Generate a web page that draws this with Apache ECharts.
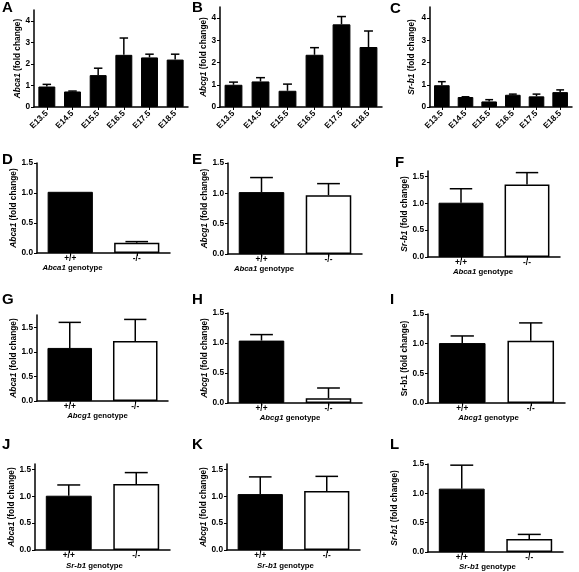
<!DOCTYPE html>
<html><head><meta charset="utf-8">
<script src="https://cdn.jsdelivr.net/npm/echarts@6/dist/echarts.min.js"></script>
<style>html,body{margin:0;padding:0;background:#fff}#c{width:579px;height:572px}</style>
</head><body><div id="c"></div>
<script>
// ---- data ----
const stages = ['E13.5','E14.5','E15.5','E16.5','E17.5','E18.5'];
const genotypes = ['+/+','-/-'];
const abca1Stage = [0.95, 0.72, 1.48, 2.42, 2.30, 2.20];
const abca1StageErr = [1.05, 0.74, 1.80, 3.20, 2.45, 2.45];
const abcg1Stage = [1.00, 1.15, 0.73, 2.35, 3.72, 2.70];
const abcg1StageErr = [1.12, 1.32, 1.03, 2.67, 4.07, 3.42];
const srb1Stage = [0.98, 0.45, 0.25, 0.55, 0.48, 0.67];
const srb1StageErr = [1.14, 0.46, 0.33, 0.58, 0.58, 0.77];
const dVals = [1.02, 0.17], dErr = [1.02, 0.19];
const eVals = [1.02, 0.97], eErr = [1.26, 1.16];
const fVals = [1.01, 1.35], fErr = [1.27, 1.57];
const gVals = [1.08, 1.22], gErr = [1.60, 1.66];
const hVals = [1.04, 0.08], hErr = [1.14, 0.25];
const iVals = [1.01, 1.05], iErr = [1.13, 1.35];
const jVals = [1.01, 1.23], jErr = [1.21, 1.44];
const kVals = [1.04, 1.10], kErr = [1.36, 1.37];
const lVals = [1.08, 0.22], lErr = [1.48, 0.30];
const stageTicks = [0, 1, 2, 3, 4];
const foldTicks = [0, 0.5, 1.0, 1.5];

// ---- panels ----
const FONT = '"Liberation Sans", Arial, sans-serif';
const panels = [
  {L:'A', lx:2, ly:0, g:{left:34, top:10, width:154, height:97}, cats:stages, v:abca1Stage, e:abca1StageErr, max:4.5, ticks:stageTicks, yname:'{i|Abca1} (fold change)', gap:9},
  {L:'B', lx:192, ly:0, g:{left:220, top:7, width:162, height:100}, cats:stages, v:abcg1Stage, e:abcg1StageErr, max:4.5, ticks:stageTicks, yname:'{i|Abcg1} (fold change)', gap:6},
  {L:'C', lx:390, ly:1, g:{left:430, top:7, width:142, height:100}, cats:stages, v:srb1Stage, e:srb1StageErr, max:4.5, ticks:stageTicks, yname:'{i|Sr-b1} (fold change)', gap:14},
  {L:'D', lx:2, ly:152, g:{left:37, top:163, width:133, height:90}, cats:genotypes, v:dVals, e:dErr, max:1.5, ticks:foldTicks, yname:'{i|Abca1} (fold change)', gap:17, xname:'{i|Abca1} genotype', xgap:6, xshift:31},
  {L:'E', lx:192, ly:152, g:{left:228, top:163, width:134, height:91}, cats:genotypes, v:eVals, e:eErr, max:1.5, ticks:foldTicks, yname:'{i|Abcg1} (fold change)', gap:19, xname:'{i|Abca1} genotype', xgap:5, xshift:31},
  {L:'F', lx:395, ly:155, g:{left:428, top:171, width:132, height:86}, cats:genotypes, v:fVals, e:fErr, max:1.6, ticks:foldTicks, yname:'{i|Sr-b1} (fold change)', gap:12, xname:'{i|Abca1} genotype', xgap:10, xshift:11},
  {L:'G', lx:2, ly:292, g:{left:37, top:315, width:131, height:86}, cats:genotypes, v:gVals, e:gErr, max:1.75, ticks:foldTicks, yname:'{i|Abca1} (fold change)', gap:18, xname:'{i|Abcg1} genotype', xgap:10, xshift:5},
  {L:'H', lx:192, ly:292, g:{left:228, top:313, width:134, height:90}, cats:genotypes, v:hVals, e:hErr, max:1.5, ticks:foldTicks, yname:'{i|Abcg1} (fold change)', gap:18, xname:'{i|Abcg1} genotype', xgap:11, xshift:5},
  {L:'I', lx:390, ly:292, g:{left:428, top:314, width:137, height:89}, cats:genotypes, v:iVals, e:iErr, max:1.5, ticks:foldTicks, yname:'Sr-b1 (fold change)', gap:17, xname:'{i|Abcg1} genotype', xgap:10, xshift:8},
  {L:'J', lx:2, ly:437, g:{left:35, top:464, width:135, height:86}, cats:genotypes, v:jVals, e:jErr, max:1.6, ticks:foldTicks, yname:'{i|Abca1} (fold change)', gap:16, xname:'{i|Sr-b1} genotype', xgap:12, xshift:8},
  {L:'K', lx:192, ly:437, g:{left:227, top:464, width:133, height:86}, cats:genotypes, v:kVals, e:kErr, max:1.6, ticks:foldTicks, yname:'{i|Abcg1} (fold change)', gap:18, xname:'{i|Sr-b1} genotype', xgap:12, xshift:8},
  {L:'L', lx:390, ly:437, g:{left:428, top:464, width:135, height:88}, cats:genotypes, v:lVals, e:lErr, max:1.5, ticks:foldTicks, yname:'{i|Sr-b1} (fold change)', gap:29, xname:'{i|Sr-b1} genotype', xgap:11, xshift:8}
];

const grid = [], xAxis = [], yAxis = [], series = [], title = [];
panels.forEach((p, k) => {
  const isStage = p.cats.length > 2;
  const barFrac = isStage ? 0.66 : 0.68;
  grid.push(Object.assign({containLabel:false}, p.g));
  title.push({text:p.L, left:p.lx, top:p.ly, padding:0,
    textStyle:{fontFamily:FONT, fontWeight:'bold', fontSize:15, color:'#000'}});
  const ynFs = 8.3;
  const nameStyle = {fontFamily:FONT, fontWeight:'bold', fontSize:ynFs, color:'#000',
    rich:{i:{fontFamily:FONT, fontWeight:'bold', fontStyle:'italic', fontSize:ynFs, color:'#000'}}};
  const xnFs = 7.8;
  xAxis.push({
    type:'category', gridIndex:k, data:p.cats, boundaryGap:true,
    axisLine:{lineStyle:{color:'#000', width:1.5}},
    axisTick:{show:true, alignWithLabel:true, length:3, lineStyle:{color:'#000', width:1}},
    axisLabel:{fontFamily:FONT, fontWeight:'bold', fontSize:8.3, color:'#000',
      rotate:isStage?45:0, margin:isStage?5:2, interval:0},
    name:p.xname || '', nameLocation:'middle', nameGap:p.xgap || 0,
    nameTextStyle:{fontFamily:FONT, fontWeight:'bold', fontSize:xnFs, color:'#000',
      padding:[0, 2*(p.xshift||0), 0, 0],
      rich:{i:{fontFamily:FONT, fontWeight:'bold', fontStyle:'italic', fontSize:xnFs, color:'#000'}}}
  });
  yAxis.push({
    type:'value', gridIndex:k, min:0, max:p.max, interval:isStage?1:0.5,
    splitLine:{show:false},
    axisLine:{show:true, lineStyle:{color:'#000', width:1.5}},
    axisTick:{show:true, length:3, lineStyle:{color:'#000', width:1}, customValues:p.ticks},
    axisLabel:{fontFamily:FONT, fontWeight:'bold', fontSize:8.3, color:'#000', margin:4,
      customValues:p.ticks,
      formatter:v => isStage ? String(v) : v.toFixed(1)},
    name:p.yname, nameLocation:'middle', nameRotate:90, nameGap:p.gap,
    nameTextStyle:nameStyle
  });
  series.push({
    type:'bar', xAxisIndex:k, yAxisIndex:k, barWidth:(barFrac*100)+'%',
    data:p.v.map((v, i) => ({value:v, itemStyle: (isStage || i === 0)
      ? {color:'#000', borderColor:'#000', borderWidth:1}
      : {color:'#fff', borderColor:'#000', borderWidth:1.5}})),
    silent:true, animation:false
  });
  series.push({
    type:'custom', xAxisIndex:k, yAxisIndex:k, silent:true, animation:false, z:3,
    data:p.v.map((v, i) => [i, v, p.e[i]]),
    encode:{x:0, y:[1,2]},
    renderItem:(params, api) => {
      const i = api.value(0), v = api.value(1), e = api.value(2);
      if (e <= v) return null;
      const p0 = api.coord([i, v]), p1 = api.coord([i, e]);
      const cw = api.size([1, 0])[0] * barFrac * 0.5;
      return {type:'group', children:[
        {type:'line', shape:{x1:p0[0], y1:p0[1], x2:p1[0], y2:p1[1]}, style:{stroke:'#000', lineWidth:1.5}},
        {type:'line', shape:{x1:p1[0]-cw/2, y1:p1[1], x2:p1[0]+cw/2, y2:p1[1]}, style:{stroke:'#000', lineWidth:1.5}}
      ]};
    }
  });
});

const chart = echarts.init(document.getElementById('c'), null, {renderer:'canvas'});
chart.setOption({backgroundColor:'#fff', animation:false, title, grid, xAxis, yAxis, series});
</script></body></html>
